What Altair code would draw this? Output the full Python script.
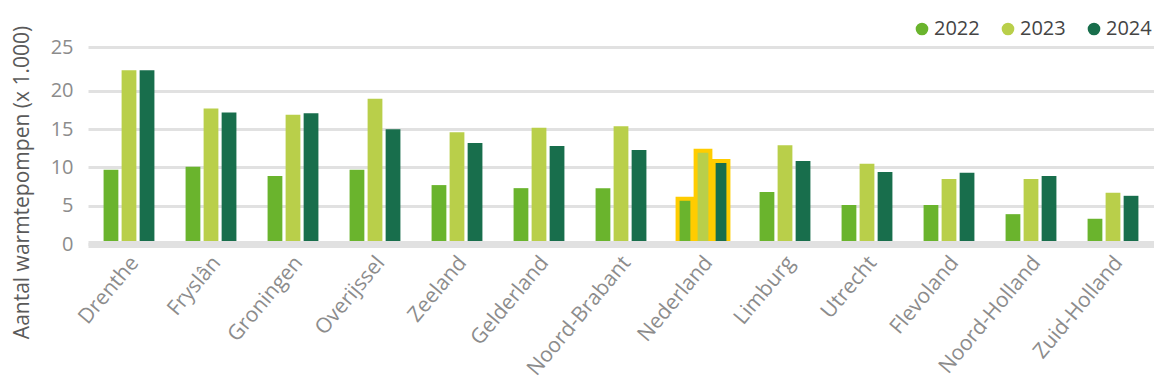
import altair as alt
import pandas as pd

regions = ["Drenthe", "Fryslân", "Groningen", "Overijssel", "Zeeland", "Gelderland",
           "Noord-Brabant", "Nederland", "Limburg", "Utrecht", "Flevoland",
           "Noord-Holland", "Zuid-Holland"]
years = ["2022", "2023", "2024"]
v2022 = [9.7, 10.1, 8.9, 9.7, 7.7, 7.3, 7.3, 5.9, 6.8, 5.1, 5.1, 3.9, 3.3]
v2023 = [22.7, 17.7, 16.9, 19.0, 14.6, 15.2, 15.4, 12.2, 12.9, 10.5, 8.5, 8.5, 6.7]
v2024 = [22.7, 17.2, 17.1, 15.0, 13.2, 12.8, 12.3, 10.85, 10.85, 9.4, 9.3, 8.9, 6.3]
colors = ["#6ab42d", "#b9cf4a", "#186e4c"]
y_ticks = [0, 5, 10, 15, 20, 25.75]

rows = []
for i, r in enumerate(regions):
    for y, vals in zip(years, [v2022, v2023, v2024]):
        rows.append({"regio": r, "jaar": y, "waarde": vals[i]})
df = pd.DataFrame(rows)

FONT = "Open Sans"

chart = alt.Chart(df).mark_bar(stroke="#ffcc00").encode(
    x=alt.X("regio:N", sort=regions,
            scale=alt.Scale(paddingInner=0.38, paddingOuter=0.19),
            axis=alt.Axis(title=None, labelAngle=-50, labelColor="#8c8c8c",
                          labelFontSize=21, labelFont=FONT, ticks=False,
                          domain=True, domainColor="#e1e1e1", domainWidth=7,
                          zindex=1, labelPadding=15, labelOffset=6,
                          labelLimit=300)),
    xOffset=alt.XOffset("jaar:N", sort=years, scale=alt.Scale(paddingInner=0.18)),
    y=alt.Y("waarde:Q", scale=alt.Scale(domain=[0, 25.75], nice=False),
            axis=alt.Axis(title="Aantal warmtepompen (x 1.000)", values=y_ticks,
                          labelExpr="datum.value > 25 ? '25' : datum.label",
                          labelOverlap=False,
                          grid=True, gridColor="#e1e1e1", gridWidth=3,
                          domain=False, ticks=False, labelPadding=15,
                          labelColor="#8c8c8c", labelFontSize=20, labelFont=FONT,
                          titleColor="#5a5a5a", titleFontSize=21, titleFont=FONT,
                          titleFontWeight="normal", titleX=-66, titleY=135,
                          titleAlign="center", titleBaseline="middle")),
    color=alt.Color("jaar:N", sort=years,
                    scale=alt.Scale(domain=years, range=colors),
                    legend=alt.Legend(title=None, orient="none", direction="horizontal",
                                      legendX=824, legendY=-28, symbolType="circle",
                                      symbolSize=160, symbolStrokeWidth=0,
                                      labelFontSize=20, labelFont=FONT,
                                      labelColor="#444444", columnPadding=18,
                                      labelOffset=2)),
    strokeWidth=alt.condition(alt.datum.regio == "Nederland", alt.value(4), alt.value(0)),
).properties(
    width=1066, height=197,
    autosize=alt.AutoSizeParams(type="none"),
    padding={"left": 80, "top": 39, "right": 0, "bottom": 139},
).configure_view(stroke=None)

chart.save("out.html", embed_options={"renderer": "svg", "actions": False})
